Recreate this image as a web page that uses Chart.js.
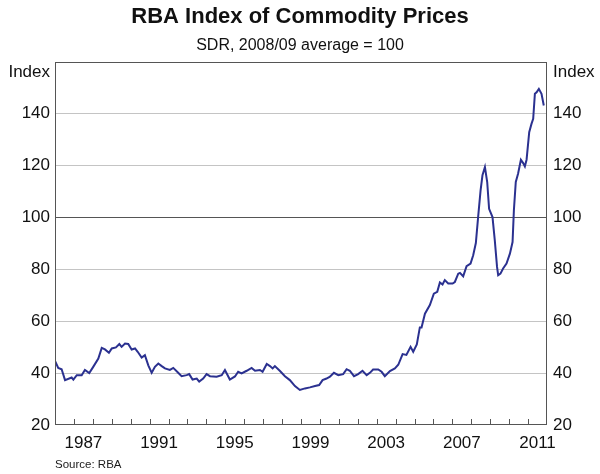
<!DOCTYPE html>
<html><head><meta charset="utf-8">
<script src="https://cdn.jsdelivr.net/npm/chart.js@4"></script>
<style>
html,body{margin:0;padding:0;background:#fff;}
#wrap{position:relative;width:600px;height:474px;}
#source{position:absolute;left:55px;top:457px;font:11.5px 'Liberation Sans',Arial,sans-serif;color:#1a1a1a;line-height:14px;}
</style></head><body>
<div id="wrap"><canvas id="c" width="600" height="474"></canvas><div id="source">Source: RBA</div></div>
<script>
// Data (decimal year, index value)
const dates = [
 1986.00,1986.17,1986.35,1986.53,1986.88,1986.97,1987.15,1987.41,1987.58,1987.81,
 1988.02,1988.29,1988.47,1988.64,1988.85,1989.00,1989.22,1989.40,1989.52,1989.70,
 1989.87,1990.05,1990.23,1990.37,1990.58,1990.75,1990.93,1991.11,1991.28,1991.46,
 1991.64,1991.81,1992.07,1992.25,1992.51,1992.69,1992.96,1993.09,1993.27,1993.49,
 1993.62,1993.83,1994.01,1994.19,1994.54,1994.81,1994.98,1995.24,1995.51,1995.68,
 1995.86,1996.13,1996.39,1996.57,1996.83,1996.97,1997.19,1997.36,1997.50,1997.62,
 1997.89,1998.15,1998.41,1998.68,1998.94,1999.21,1999.47,1999.74,1999.96,2000.14,
 2000.35,2000.53,2000.74,2000.97,2001.23,2001.41,2001.58,2001.80,2002.02,2002.25,
 2002.47,2002.64,2002.81,2003.08,2003.26,2003.43,2003.70,2003.96,2004.14,2004.37,
 2004.57,2004.79,2004.93,2005.12,2005.28,2005.37,2005.55,2005.81,2006.02,2006.20,
 2006.34,2006.48,2006.60,2006.78,2007.01,2007.13,2007.31,2007.40,2007.57,2007.75,
 2007.96,2008.10,2008.24,2008.36,2008.49,2008.59,2008.72,2008.84,2008.94,2009.12,
 2009.24,2009.36,2009.42,2009.54,2009.68,2009.86,2010.04,2010.18,2010.25,2010.35,
 2010.47,2010.62,2010.74,2010.83,2010.92,2011.06,2011.18,2011.27,2011.36,2011.45,
 2011.57,2011.71,2011.83
];
const index = [
 44.7,42.0,41.5,37.3,38.3,37.5,39.2,39.2,41.2,40.0,
 42.4,45.6,49.7,49.1,47.8,49.5,49.9,51.2,50.1,51.4,
 51.2,49.1,49.5,48.2,46.0,46.9,43.0,40.1,42.4,43.7,
 42.7,41.8,41.2,42.0,40.1,38.8,39.2,39.6,37.5,37.9,
 36.7,37.9,39.6,38.8,38.6,39.2,41.2,37.5,38.7,40.5,
 39.9,40.9,42.0,40.9,41.2,40.5,43.5,42.7,41.8,42.7,
 40.8,38.8,37.3,35.0,33.5,34.1,34.5,35.0,35.4,37.3,
 37.9,38.6,40.1,39.2,39.6,41.5,40.9,38.8,39.6,40.9,
 39.2,40.1,41.4,41.4,40.5,38.8,40.8,41.8,43.2,47.3,
 47.0,50.1,48.2,51.0,57.6,57.6,62.9,66.2,70.6,71.3,
 74.9,74.1,75.8,74.5,74.5,75.1,78.3,78.6,77.3,81.2,
 82.2,85.4,90.1,100.1,110.4,116.2,119.4,113.6,103.3,100.1,
 91.2,80.9,77.7,78.3,80.3,82.2,86.0,90.5,102.7,113.6,
 116.8,122.2,120.9,119.6,122.2,132.8,136.0,138.0,147.6,148.2,
 149.5,147.6,143.1
];
const yTickValues = [20,40,60,80,100,120,140];
const yearLabels = [1987,1991,1995,1999,2003,2007,2011];
const chartTitle = 'RBA Index of Commodity Prices';
const chartSubtitle = 'SDR, 2008/09 average = 100';
const unitLabel = 'Index';

const FONT = "'Liberation Sans', Arial, sans-serif";
const UNIT_POS = 156; // vertical spot of the unit label inside the axis range
const Y_MIN = 20, Y_MAX = 160, X_MIN = 1986, X_MAX = 2012;

const frame = {
  id: 'frame',
  afterDraw(chart) {
    const {ctx, chartArea: a} = chart;
    const xs = chart.scales.x;
    ctx.save();
    ctx.strokeStyle = '#555';
    ctx.lineWidth = 1;
    ctx.beginPath();
    for (let yr = X_MIN + 1; yr < X_MAX; yr++) {
      const px = Math.round(xs.getPixelForValue(yr)) + 0.5;
      ctx.moveTo(px, a.bottom);
      ctx.lineTo(px, a.bottom - 6);
    }
    ctx.stroke();
    ctx.strokeRect(Math.round(a.left) + 0.5, Math.round(a.top) + 0.5,
                   Math.round(a.right - a.left) - 1, Math.round(a.bottom - a.top) - 1);
    ctx.restore();
  }
};

function yTicksBuilder(scale) {
  scale.ticks = yTickValues.concat([UNIT_POS]).map(v => ({value: v}));
}
function yLabel(v) { return v === UNIT_POS ? unitLabel : String(v); }

new Chart(document.getElementById('c'), {
  type: 'line',
  data: {
    datasets: [{
      data: dates.map((d, i) => ({x: d, y: index[i]})),
      borderColor: '#2b3190',
      borderWidth: 2,
      pointRadius: 0,
      tension: 0,
      fill: false
    }]
  },
  options: {
    responsive: false,
    animation: false,
    devicePixelRatio: 1,
    layout: {padding: {left: 0, right: 0, top: 0, bottom: 0}},
    plugins: {
      legend: {display: false},
      tooltip: {enabled: false},
      title: {display: true, text: chartTitle, color: '#111',
              font: {family: FONT, size: 22, weight: 'bold'}, padding: {top: 4, bottom: 6}},
      subtitle: {display: true, text: chartSubtitle, color: '#111',
              font: {family: FONT, size: 16}, padding: {top: 0, bottom: 6}}
    },
    scales: {
      x: {
        type: 'linear', min: X_MIN, max: X_MAX,
        afterBuildTicks: s => { s.ticks = yearLabels.map(y => ({value: y + 0.5})); },
        afterFit: s => { s.height = 49; },
        ticks: {callback: v => String(Math.floor(v)), color: '#111', padding: 8,
                font: {family: FONT, size: 17}, maxRotation: 0, autoSkip: false},
        grid: {display: false, drawTicks: false},
        border: {display: false}
      },
      y: {
        position: 'left', min: Y_MIN, max: Y_MAX,
        afterBuildTicks: yTicksBuilder,
        afterFit: s => { s.width = 55; },
        ticks: {callback: yLabel, color: '#111', padding: 5, font: {family: FONT, size: 17}},
        grid: {drawTicks: false,
               color: c => (c.tick.value === 100 ? '#555' :
                           (c.tick.value === UNIT_POS || c.tick.value === Y_MIN) ? 'rgba(0,0,0,0)' : '#c4c4c4'),
               lineWidth: 1},
        border: {display: false}
      },
      y2: {
        position: 'right', min: Y_MIN, max: Y_MAX,
        afterBuildTicks: yTicksBuilder,
        afterFit: s => { s.width = 53; },
        ticks: {callback: yLabel, color: '#111', padding: 6, font: {family: FONT, size: 17}},
        grid: {display: false, drawTicks: false},
        border: {display: false}
      }
    }
  },
  plugins: [frame]
});
</script>
</body></html>
